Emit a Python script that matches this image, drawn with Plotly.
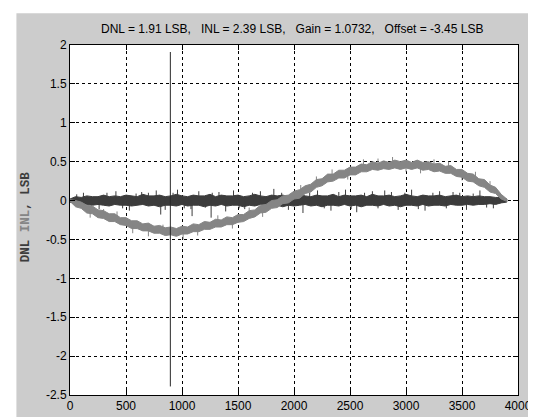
import plotly.graph_objects as go

# ---------------- data ----------------
codes = list(range(0, 3901, 50))

dnl_hi = [0.02,0.05,0.04,0.06,0.05,0.05,0.07,0.05,0.06,0.05,
          0.07,0.06,0.05,0.08,0.06,0.06,0.07,0.05,0.06,0.08,
          0.06,0.05,0.07,0.06,0.06,0.08,0.05,0.07,0.06,0.06,
          0.07,0.05,0.06,0.08,0.06,0.05,0.07,0.06,0.07,0.05,
          0.06,0.08,0.06,0.05,0.07,0.06,0.06,0.08,0.05,0.07,
          0.06,0.06,0.07,0.05,0.08,0.06,0.06,0.07,0.05,0.06,
          0.08,0.06,0.05,0.07,0.06,0.06,0.07,0.05,0.06,0.07,
          0.05,0.06,0.05,0.06,0.05,0.05,0.04,0.04,0.02]
dnl_lo = [-0.02,-0.04,-0.05,-0.05,-0.06,-0.05,-0.06,-0.07,-0.05,-0.06,
          -0.06,-0.07,-0.06,-0.05,-0.07,-0.06,-0.08,-0.06,-0.06,-0.07,
          -0.05,-0.07,-0.06,-0.06,-0.08,-0.06,-0.07,-0.05,-0.07,-0.06,
          -0.06,-0.08,-0.06,-0.07,-0.05,-0.07,-0.06,-0.06,-0.08,-0.06,
          -0.07,-0.06,-0.05,-0.07,-0.06,-0.08,-0.06,-0.06,-0.07,-0.05,
          -0.07,-0.06,-0.08,-0.06,-0.06,-0.07,-0.05,-0.07,-0.06,-0.08,
          -0.06,-0.06,-0.07,-0.05,-0.07,-0.06,-0.06,-0.07,-0.05,-0.06,
          -0.06,-0.05,-0.06,-0.05,-0.05,-0.04,-0.05,-0.03,-0.02]

inl_hi = [0.01,0.00,-0.02,-0.06,-0.07,-0.12,-0.13,-0.17,-0.17,-0.22,
          -0.22,-0.26,-0.26,-0.30,-0.29,-0.33,-0.32,-0.35,-0.34,-0.36,
          -0.33,-0.34,-0.30,-0.31,-0.27,-0.28,-0.24,-0.25,-0.21,-0.22,
          -0.18,-0.18,-0.13,-0.12,-0.06,-0.05,0.00,0.01,0.06,0.07,
          0.12,0.14,0.19,0.21,0.27,0.28,0.34,0.34,0.39,0.39,
          0.43,0.43,0.47,0.46,0.50,0.48,0.51,0.49,0.52,0.50,
          0.52,0.49,0.52,0.49,0.50,0.47,0.48,0.44,0.45,0.40,
          0.40,0.35,0.34,0.28,0.27,0.20,0.17,0.08,0.02]
inl_lo = [-0.01,-0.08,-0.10,-0.16,-0.17,-0.22,-0.23,-0.27,-0.27,-0.31,
          -0.32,-0.36,-0.36,-0.39,-0.39,-0.42,-0.42,-0.45,-0.44,-0.46,
          -0.43,-0.43,-0.40,-0.40,-0.37,-0.37,-0.34,-0.34,-0.31,-0.31,
          -0.28,-0.27,-0.23,-0.21,-0.16,-0.15,-0.10,-0.09,-0.04,-0.03,
          0.02,0.03,0.09,0.11,0.17,0.19,0.24,0.25,0.29,0.29,
          0.33,0.33,0.37,0.37,0.40,0.39,0.41,0.40,0.42,0.40,
          0.42,0.40,0.42,0.39,0.40,0.37,0.38,0.35,0.35,0.31,
          0.30,0.25,0.24,0.19,0.17,0.11,0.09,0.02,-0.01]

dnl_spike_x = [60,120,190,260,330,410,470,530,590,640,
               700,770,810,850,920,960,1020,1080,1090,1150,
               1210,1260,1270,1330,1390,1460,1510,1560,1630,1700,
               1760,1820,1890,1950,2010,2080,2140,2210,2270,2330,
               2400,2460,2510,2560,2630,2700,2750,2810,2870,2930,
               2990,3050,3110,3170,3240,3300,3360,3420,3480,3540,
               3600,3660,3720,3780,3840]
dnl_spike_y = [0.08,0.10,-0.09,-0.11,0.10,0.12,-0.10,-0.13,0.09,0.11,
               0.10,0.13,-0.18,-0.12,0.10,0.14,-0.10,-0.11,-0.20,0.12,
               -0.09,-0.22,0.10,0.11,-0.14,0.13,-0.10,-0.11,0.10,0.12,
               -0.09,0.15,0.10,-0.12,0.11,-0.16,0.10,0.13,-0.10,-0.13,
               0.11,0.14,-0.11,-0.15,0.10,0.12,-0.10,0.13,0.11,-0.12,
               0.10,0.14,-0.11,-0.13,0.10,0.12,-0.10,0.11,0.10,-0.12,
               0.09,0.13,-0.09,-0.10,0.08]

inl_spike_x = [180,300,420,560,700,830,1010,1140,1320,1450,
               1600,1720,2060,2200,2340,2480,2620,2750,2880,3000,
               3130,3250,3380,3500,3620,3750]
inl_spike_base = [-0.12,-0.19,-0.24,-0.31,-0.35,-0.39,-0.39,-0.35,-0.30,-0.26,
                  -0.19,-0.11,0.10,0.21,0.30,0.36,0.42,0.445,0.46,0.46,
                  0.455,0.435,0.40,0.34,0.27,0.165]
inl_spike_tip = [-0.22,-0.11,-0.14,-0.42,-0.46,-0.31,-0.50,-0.45,-0.19,-0.36,
                 -0.09,-0.21,0.20,0.31,0.40,0.27,0.53,0.54,0.56,0.37,
                 0.35,0.53,0.50,0.26,0.37,0.25]

spike_x = [896, 896]
spike_y = [1.91, -2.39]

x_ticks = [0, 500, 1000, 1500, 2000, 2500, 3000, 3500, 4000]
x_labels = ["0", "500", "1000", "1500", "2000", "2500", "3000", "3500", "4000"]
y_ticks = [-2.5, -2, -1.5, -1, -0.5, 0, 0.5, 1, 1.5, 2]
y_labels = ["-2.5", "-2", "-1.5", "-1", "-0.5", "0", "0.5", "1", "1.5", "2"]

title_text = ("DNL = 1.91 LSB,\u00a0\u00a0 INL = 2.39 LSB,\u00a0\u00a0 Gain = 1.0732,"
              "\u00a0\u00a0 Offset = -3.45 LSB")

DNL_COLOR = "#3c3c3c"
INL_COLOR = "#858585"

# ---------------- figure ----------------
fig = go.Figure()

def band(hi, lo, color):
    return go.Scatter(
        x=codes + codes[::-1], y=hi + lo[::-1],
        mode="lines", fill="toself", fillcolor=color,
        line=dict(color=color, width=1), hoverinfo="skip", showlegend=False)

def segments(xs, y0s, y1s):
    sx, sy = [], []
    for x, a, b in zip(xs, y0s, y1s):
        sx += [x, x, None]
        sy += [a, b, None]
    return sx, sy

fig.add_trace(band(dnl_hi, dnl_lo, DNL_COLOR))
sx, sy = segments(dnl_spike_x, [0] * len(dnl_spike_x), dnl_spike_y)
fig.add_trace(go.Scatter(x=sx, y=sy, mode="lines", line=dict(color=DNL_COLOR, width=1),
                         showlegend=False, hoverinfo="skip"))
fig.add_trace(band(inl_hi, inl_lo, INL_COLOR))
sx, sy = segments(inl_spike_x, inl_spike_base, inl_spike_tip)
fig.add_trace(go.Scatter(x=sx, y=sy, mode="lines", line=dict(color=INL_COLOR, width=1),
                         showlegend=False, hoverinfo="skip"))
fig.add_trace(go.Scatter(x=spike_x, y=spike_y, mode="lines",
                         line=dict(color="#2a2a2a", width=1), showlegend=False))

axis_common = dict(
    showline=True, linecolor="black", linewidth=1, mirror="ticks",
    ticks="inside", ticklen=5, tickcolor="black",
    showgrid=True, gridcolor="black", gridwidth=1, griddash="dot",
    zeroline=False,
    tickfont=dict(family="Liberation Sans, Arial, sans-serif", size=12, color="black"),
)

fig.update_layout(
    width=536, height=417,
    margin=dict(l=62, r=14, t=37, b=16),
    paper_bgcolor="#cccccc", plot_bgcolor="white",
    showlegend=False,
    xaxis=dict(range=[0, 4000], tickvals=x_ticks, ticktext=x_labels, **axis_common),
    yaxis=dict(range=[-2.5, 2], tickvals=y_ticks, ticktext=y_labels, **axis_common),
    shapes=[
        dict(type="rect", xref="paper", yref="paper", x0=-0.3, x1=1.3, y0=1.0907, y1=1.3,
             fillcolor="white", line=dict(width=0), layer="above"),
        dict(type="rect", xref="paper", yref="paper", x0=-0.3, x1=-0.1196, y0=-0.3, y1=1.3,
             fillcolor="white", line=dict(width=0), layer="above"),
    ],
    annotations=[
        dict(text=title_text, xref="paper", yref="paper", x=0.495, y=1.047,
             showarrow=False, xanchor="center", yanchor="middle",
             font=dict(family="Liberation Sans, Arial, sans-serif", size=12, color="black")),
        dict(text=("<b><span style='color:%s'>DNL</span> <span style='color:%s'>INL</span>"
                   "<span style='color:%s'>, LSB</span></b>") % (DNL_COLOR, INL_COLOR, DNL_COLOR),
             xref="paper", yref="paper", x=-0.098, y=0.508, textangle=-90,
             showarrow=False, xanchor="center", yanchor="middle",
             font=dict(family="Liberation Mono, monospace", size=12.5, color=DNL_COLOR)),
    ],
)

fig.write_html("out.html")
